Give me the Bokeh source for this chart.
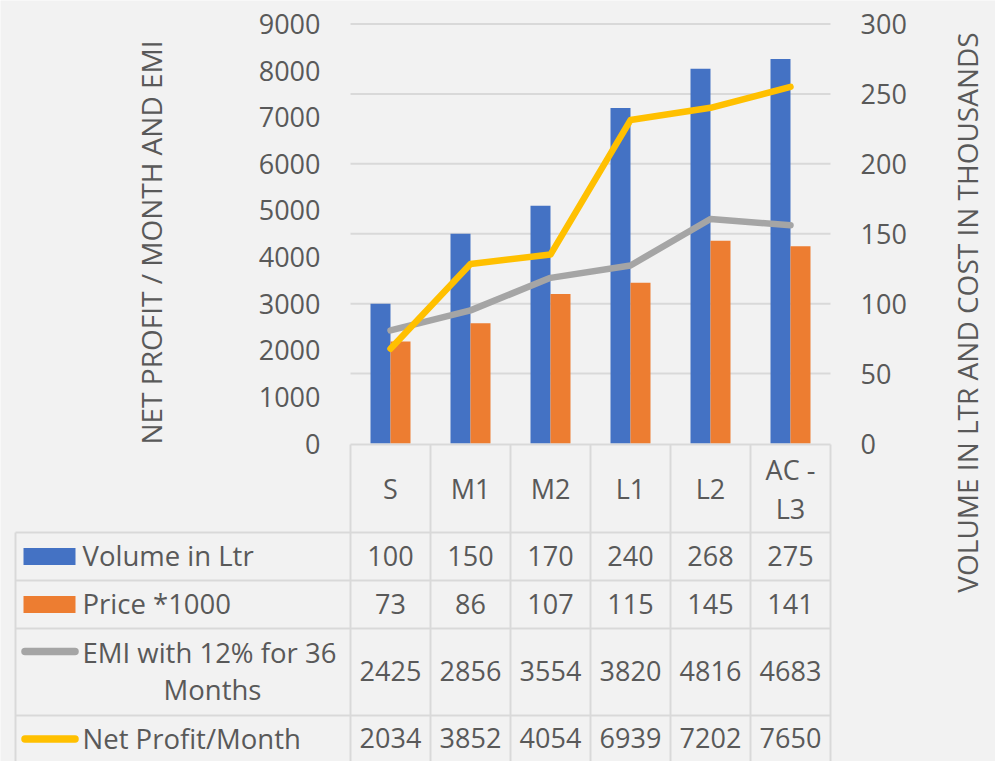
import numpy as np
from bokeh.plotting import figure
from bokeh.models import Range1d
from bokeh.core.properties import value
from bokeh.embed import file_html
from bokeh.resources import INLINE

# ---------------- data ----------------
categories = ["S", "M1", "M2", "L1", "L2", "AC - L3"]
volume_ltr = [100, 150, 170, 240, 268, 275]
price_k = [73, 86, 107, 115, 145, 141]
emi = [2425, 2856, 3554, 3820, 4816, 4683]
net_profit = [2034, 3852, 4054, 6939, 7202, 7650]
series_names = ["Volume in Ltr", "Price *1000", "EMI with 12% for 36 Months", "Net Profit/Month"]
left_ticks = [0, 1000, 2000, 3000, 4000, 5000, 6000, 7000, 8000, 9000]
right_ticks = [0, 50, 100, 150, 200, 250, 300]
left_title = "NET PROFIT / MONTH AND EMI"
right_title = "VOLUME IN LTR AND COST IN THOUSANDS"

# ---------------- style ----------------
BLUE, ORANGE, GRAY, GOLD = "#4472C4", "#ED7D31", "#A5A5A5", "#FFC000"
BG, TXT, RULE = "#F2F2F2", "#595959", "#D9D9D9"
FONT = value("Open Sans")
FS = "27px"
FS_T = "28px"
FS_L = "27.5px"

# ---------------- layout (pixels of the 995x761 picture) ----------------
W, H = 995, 761
OX, OY = 0, 0
col_left, col_w = 350, 80
y_zero, y_top = 443, 23.5
left_max, right_max = left_ticks[-1], right_ticks[-1]
n = len(categories)

lscale = (y_zero - y_top) / left_max
rscale = (y_zero - y_top) / right_max

p = figure(width=W, height=H, title=None,
           x_range=Range1d((OX - col_left) / col_w, (OX + W - col_left) / col_w),
           y_range=Range1d(OY + H, OY),
           x_axis_type=None, y_axis_type=None,
           output_backend="svg", toolbar_location=None,
           background_fill_color=BG, border_fill_color=BG,
           outline_line_color=None, min_border=0)
p.extra_x_ranges = {"px": Range1d(OX, OX + W)}
p.extra_y_ranges = {
    "left": Range1d((y_zero - (OY + H)) / lscale, (y_zero - OY) / lscale),
    "right": Range1d((y_zero - (OY + H)) / rscale, (y_zero - OY) / rscale),
}

idx = np.arange(n)

# gridlines (follow the right axis ticks)
grid_vals = [t for t in right_ticks if t > 0]
p.segment(x0=[0] * len(grid_vals), x1=[n] * len(grid_vals), y0=grid_vals, y1=grid_vals,
          y_range_name="right", line_color=RULE, line_width=2)

# bars
p.vbar(x=idx + 0.375, top=volume_ltr, bottom=0, width=0.25, y_range_name="right",
       fill_color=BLUE, line_color=None)
p.vbar(x=idx + 0.625, top=price_k, bottom=0, width=0.25, y_range_name="right",
       fill_color=ORANGE, line_color=None)

# lines
p.line(x=idx + 0.5, y=emi, y_range_name="left", line_color=GRAY, line_width=6.5,
       line_cap="round", line_join="round")
p.line(x=idx + 0.5, y=net_profit, y_range_name="left", line_color=GOLD, line_width=6.5,
       line_cap="round", line_join="round")

# tick labels
p.text(x=[320] * len(left_ticks), y=left_ticks, text=[str(t) for t in left_ticks],
       x_range_name="px", y_range_name="left", text_font=FONT, text_font_size=FS,
       text_color=TXT, text_align="right", text_baseline="middle")
p.text(x=[860] * len(right_ticks), y=right_ticks, text=[str(t) for t in right_ticks],
       x_range_name="px", y_range_name="right", text_font=FONT, text_font_size=FS,
       text_color=TXT, text_align="left", text_baseline="middle")

# axis titles
p.text(x=[150], y=[242], text=[left_title], angle=np.pi / 2, x_range_name="px",
       text_font=FONT, text_font_size=FS_T, text_color=TXT,
       text_align="center", text_baseline="middle")
p.text(x=[966], y=[312], text=[right_title], angle=np.pi / 2, x_range_name="px",
       text_font=FONT, text_font_size=FS_T, text_color=TXT,
       text_align="center", text_baseline="middle")

# ---------------- data table ----------------
row_edges = [444, 532, 580, 628, 715, 762]
table_left = 15
col_x = [col_left + i * col_w for i in range(n + 1)]

hx0 = [col_left] + [table_left] * (len(row_edges) - 1)
hx1 = [col_x[-1]] * len(row_edges)
p.segment(x0=hx0, x1=hx1, y0=row_edges, y1=row_edges, x_range_name="px",
          line_color=RULE, line_width=2)
vx = [table_left] + col_x
vy0 = [row_edges[1]] + [row_edges[0]] * len(col_x)
p.segment(x0=vx, x1=vx, y0=vy0, y1=[row_edges[-1]] * len(vx), x_range_name="px",
          line_color=RULE, line_width=2)

# header (categories)
hc = (row_edges[0] + row_edges[1]) / 2
hx, hy, ht = [], [], []
for i, c in enumerate(categories):
    lines = c.replace(" - ", " -\n").split("\n")
    k = len(lines)
    for j, ln in enumerate(lines):
        hx.append(i + 0.5)
        hy.append(hc + (j - (k - 1) / 2) * 39)
        ht.append(ln)
p.text(x=hx, y=hy, text=ht, text_font=FONT, text_font_size=FS, text_color=TXT,
       text_align="center", text_baseline="middle")

# values
rows = [volume_ltr, price_k, emi, net_profit]
row_c = [(row_edges[r + 1] + row_edges[r + 2]) / 2 for r in range(len(rows))]
vx_, vy_, vt_ = [], [], []
for r, vals in enumerate(rows):
    for i, v in enumerate(vals):
        vx_.append(i + 0.5)
        vy_.append(row_c[r] - 1)
        vt_.append(str(v))
p.text(x=vx_, y=vy_, text=vt_, text_font=FONT, text_font_size=FS, text_color=TXT,
       text_align="center", text_baseline="middle")

# legend keys
p.quad(left=[23, 23], right=[75, 75],
       top=[row_c[0] - 8.5, row_c[1] - 8.5], bottom=[row_c[0] + 8.5, row_c[1] + 8.5],
       fill_color=[BLUE, ORANGE], line_color=None, x_range_name="px")
p.line(x=[24.5, 74.5], y=[row_c[2] - 20.5] * 2, x_range_name="px",
       line_color=GRAY, line_width=7.5, line_cap="round")
p.line(x=[24.5, 74.5], y=[row_c[3]] * 2, x_range_name="px",
       line_color=GOLD, line_width=7.5, line_cap="round")

# legend labels
p.text(x=[82, 82, 82], y=[row_c[0] - 1, row_c[1] - 1, row_c[3] - 1],
       text=[series_names[0], series_names[1], series_names[3]],
       x_range_name="px", text_font=FONT, text_font_size=FS_L, text_color=TXT,
       text_align="left", text_baseline="middle")
emi_words = series_names[2].rsplit(" ", 1)
p.text(x=[82], y=[row_c[2] - 20], text=[emi_words[0]], x_range_name="px",
       text_font=FONT, text_font_size=FS_L, text_color=TXT,
       text_align="left", text_baseline="middle")
p.text(x=[212], y=[row_c[2] + 17], text=[emi_words[1]], x_range_name="px",
       text_font=FONT, text_font_size=FS_L, text_color=TXT,
       text_align="center", text_baseline="middle")

open("out.html", "w").write(file_html(p, INLINE))
